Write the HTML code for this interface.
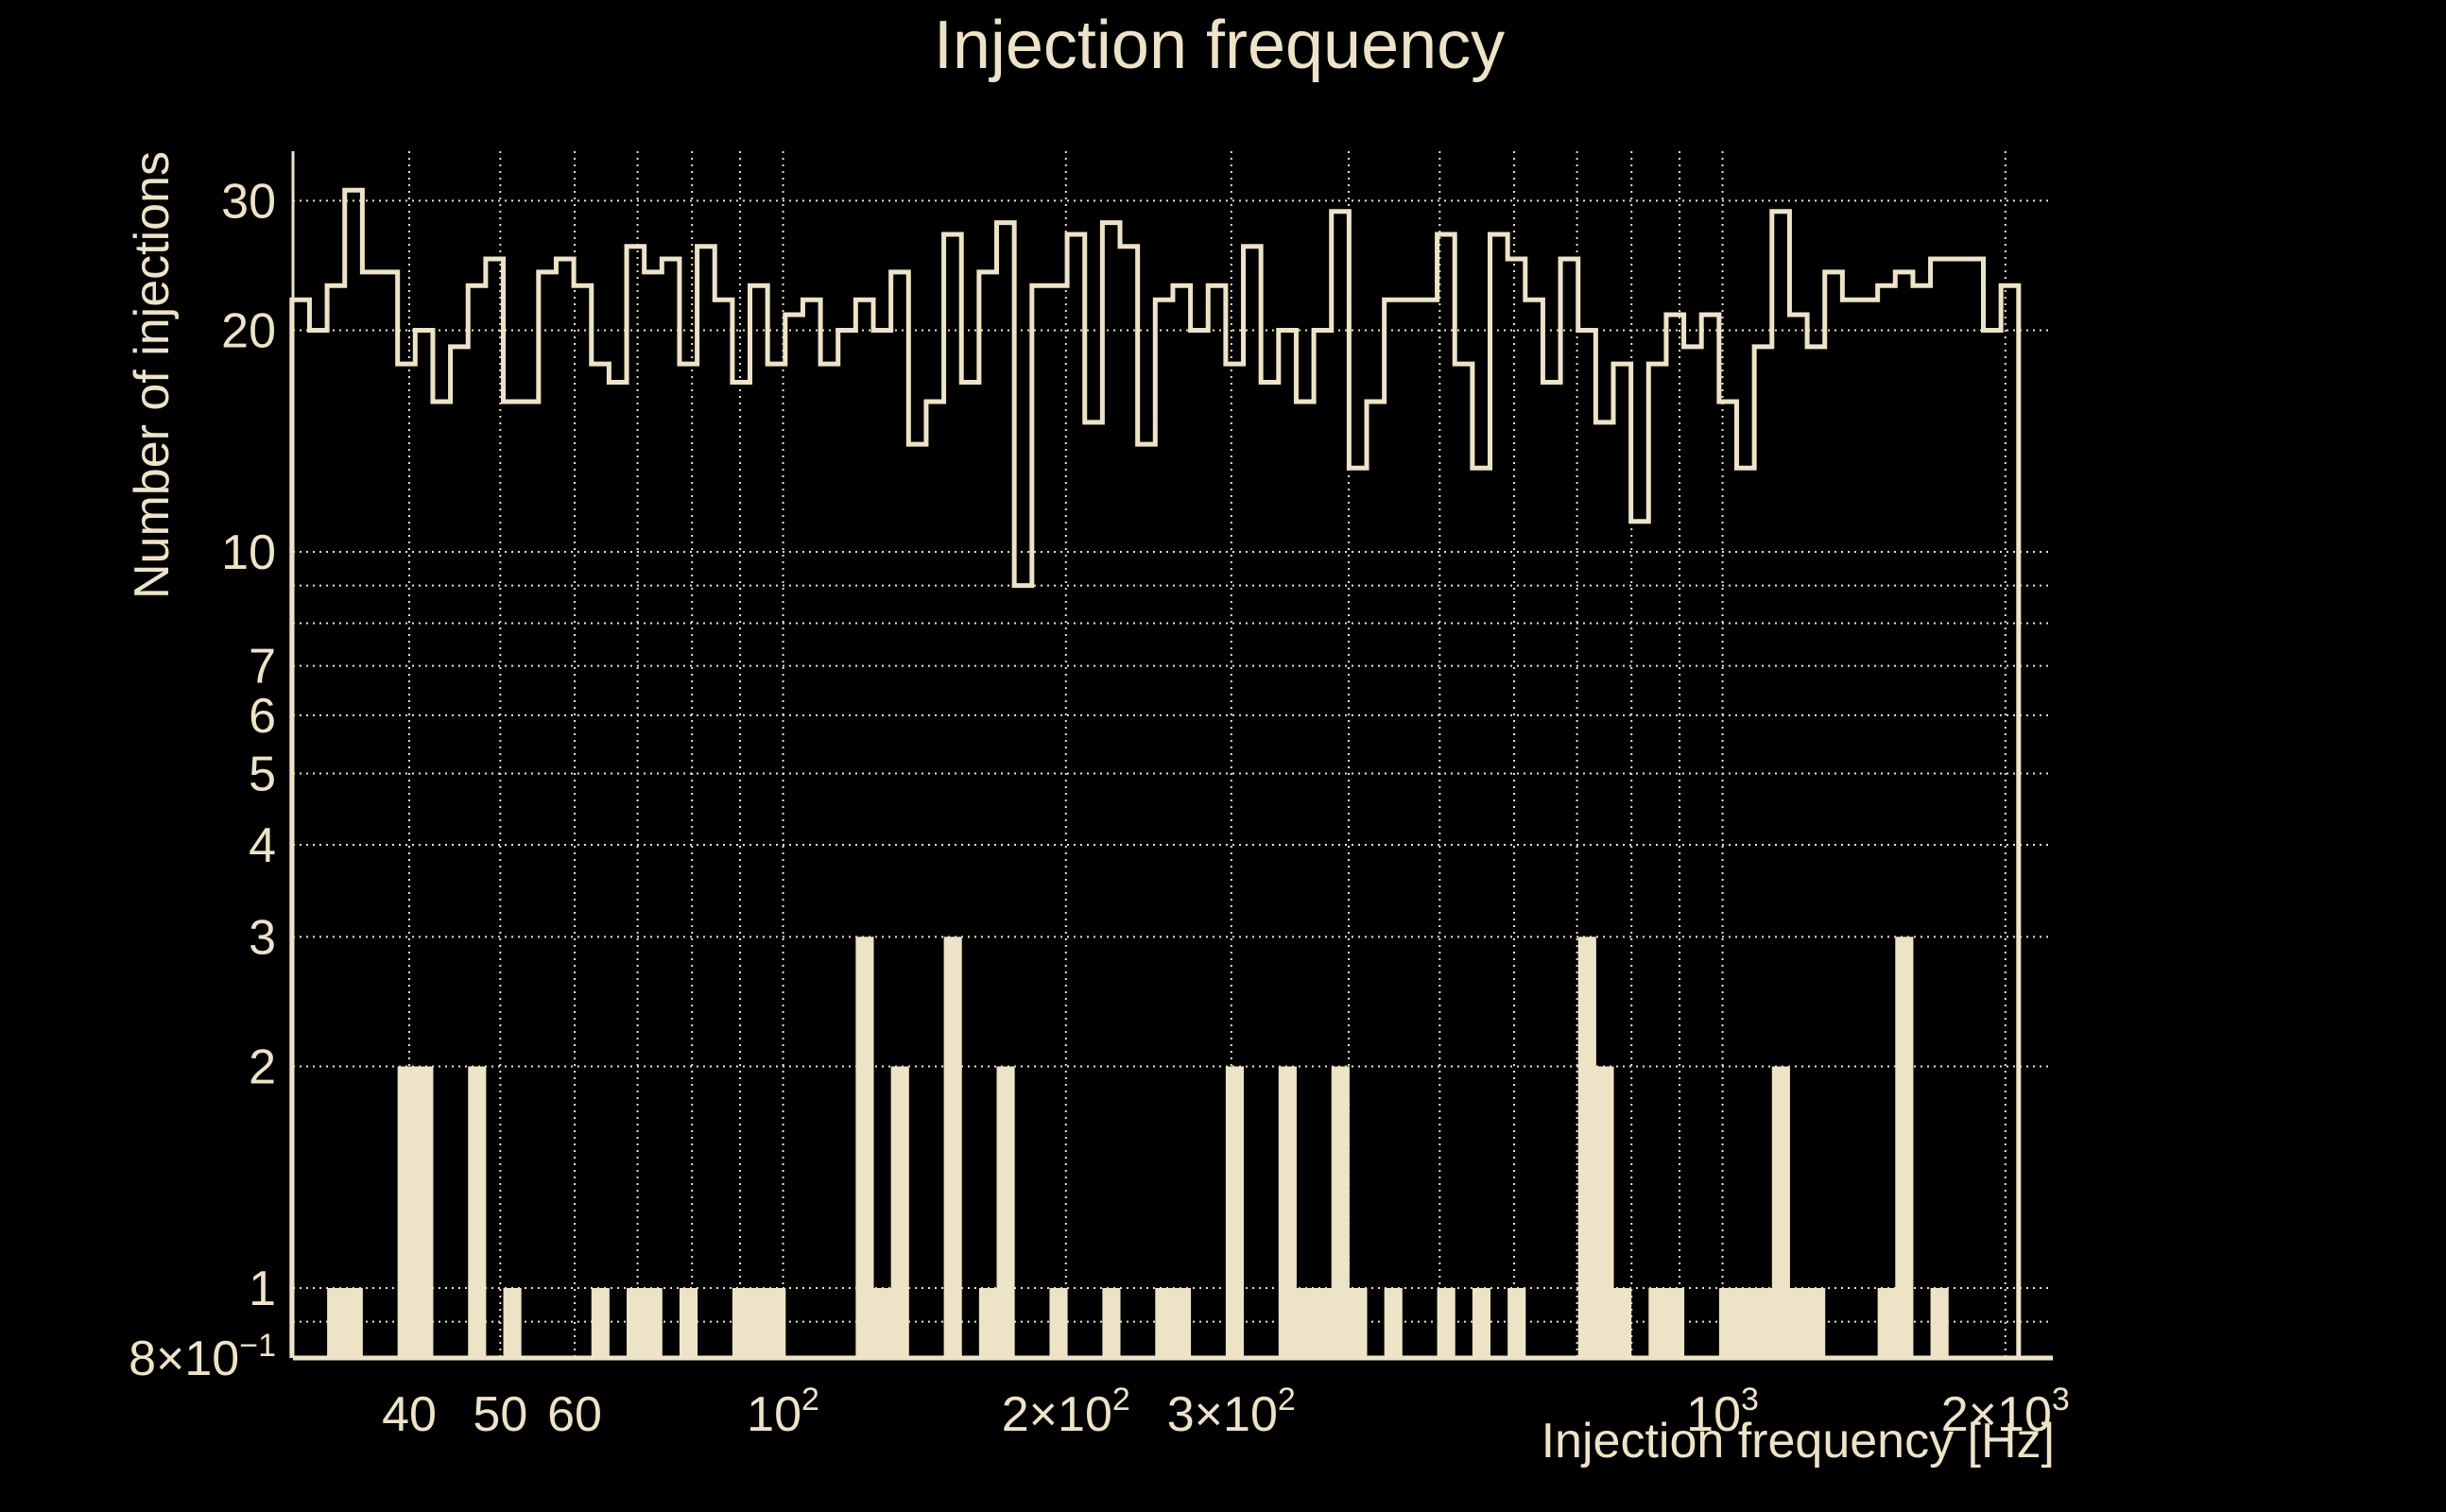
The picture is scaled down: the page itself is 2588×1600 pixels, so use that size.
<!DOCTYPE html>
<html><head><meta charset="utf-8"><style>
html,body{margin:0;padding:0;background:#000;}
svg{display:block;font-family:"Liberation Sans",sans-serif;}
</style></head><body>
<svg id="chart" width="2588" height="1600" viewBox="0 0 2588 1600" xmlns="http://www.w3.org/2000/svg">
<rect width="2588" height="1600" fill="#000"/>
<text x="1290" y="72" font-size="72" fill="#eee3c8" text-anchor="middle">Injection frequency</text>
<g id="grid"></g>
<g id="bars"></g>
<path id="step" fill="none" stroke="#eee3c8" stroke-width="5"/>
<g id="axes"></g>
<text x="2174" y="1542" font-size="52" fill="#eee3c8" text-anchor="end">Injection frequency [Hz]</text>
<text transform="translate(178,160) rotate(-90)" font-size="52" fill="#eee3c8" text-anchor="end">Number of injections</text>
</svg>
<script>
const totalCounts=[22,20,23,31,24,24,18,20,16,19,23,25,16,16,24,25,23,18,17,26,24,25,18,26,22,17,23,18,21,22,18,20,22,20,24,14,16,27,17,24,28,9,23,23,27,15,28,26,14,22,23,20,23,18,26,17,20,16,20,29,13,16,22,22,22,27,18,13,27,25,22,17,25,20,15,18,11,18,21,19,21,16,13,19,29,21,19,24,22,22,23,24,23,25,25,25,20,23];
const selIdx=[2,3,6,7,10,12,17,19,20,22,25,26,27,32,33,34,37,39,40,43,46,49,50,53,56,57,58,59,60,62,65,67,69,73,74,75,77,78,81,82,83,84,85,86,90,91,93];
const selVal=[1,1,2,2,2,1,1,1,1,1,1,1,1,3,1,2,3,1,2,1,1,1,1,2,2,1,1,2,1,1,1,1,1,3,2,1,1,1,1,1,1,2,1,1,1,3,1];
const selectedCounts=new Array(totalCounts.length).fill(0);
selIdx.forEach((b,i)=>{selectedCounts[b]=selVal[i];});
const xMin=30,xMax=2066;
const yTicks=[30,20,10,7,6,5,4,3,2,1];
const yTickLabels=["30","20","10","7","6","5","4","3","2","1"];
const yGrid=[30,20,10,9,8,7,6,5,4,3,2,1,0.9];
const xTickVals=[40,50,60,100,200,300,1000,2000];
const xTickLabels=[["40",""],["50",""],["60",""],["10","2"],["2×10","2"],["3×10","2"],["10","3"],["2×10","3"]];
const xGrid=[40,50,60,70,80,90,100,200,300,400,500,600,700,800,900,1000,2000];

const L=310,R=2172,T=160,B=1437;
const pxPerDecX=994, x40=433;
function X(f){return x40+pxPerDecX*Math.log10(f/40);}
const y1=1363, pxPerDecY=779;
function Y(v){return y1-pxPerDecY*Math.log10(v);}
const NS="http://www.w3.org/2000/svg";
function mk(tag,attrs,parent){const e=document.createElementNS(NS,tag);for(const k in attrs)e.setAttribute(k,attrs[k]);parent.appendChild(e);return e;}
const grid=document.getElementById('grid'),bars=document.getElementById('bars'),axes=document.getElementById('axes');
const C="#eee3c8";
yGrid.forEach(v=>{const l=mk('line',{x1:L,x2:R,y1:Y(v),y2:Y(v),stroke:C,'stroke-width':2,'stroke-dasharray':'2 5'},grid);

});
xGrid.forEach(f=>{const l=mk('line',{x1:X(f),x2:X(f),y1:T,y2:B,stroke:C,'stroke-width':2,'stroke-dasharray':'2 5'},grid);

});
const N=totalCounts.length;
const lx0=Math.log10(xMin),lx1=Math.log10(xMax);
function edge(i){return X(Math.pow(10,lx0+(lx1-lx0)*i/N));}
selectedCounts.forEach((v,i)=>{if(v<=0)return;
const r=mk('rect',{x:edge(i),y:Y(v),width:edge(i+1)-edge(i)+0.5,height:B-Y(v),fill:'#ede3c7'},bars);

});
let d='M'+edge(0)+','+B;
totalCounts.forEach((v,i)=>{d+=' L'+edge(i)+','+Y(v)+' L'+edge(i+1)+','+Y(v);});
d+=' L'+edge(N)+','+B;
document.getElementById('step').setAttribute('d',d);
mk('line',{x1:L,x2:L,y1:T,y2:B,stroke:C,'stroke-width':3},axes);
mk('line',{x1:L,x2:R,y1:B,y2:B,stroke:C,'stroke-width':5},axes);
yTicks.forEach((v,i)=>{const t=mk('text',{x:292,y:Y(v)+18,'font-size':52,fill:C,'text-anchor':'end'},axes);t.textContent=yTickLabels[i];

});
const t8=mk('text',{x:292,y:B+18,'font-size':52,fill:C,'text-anchor':'end'},axes);


t8.innerHTML='8×10<tspan dy="-20" font-size="34">−1</tspan>';
xTickVals.forEach((f,i)=>{const t=mk('text',{x:X(f),y:1514,'font-size':52,fill:C,'text-anchor':'middle'},axes);


t.innerHTML=xTickLabels[i][0]+(xTickLabels[i][1]?'<tspan dy="-22" font-size="34">'+xTickLabels[i][1]+'</tspan>':'');});
</script>
</body></html>
